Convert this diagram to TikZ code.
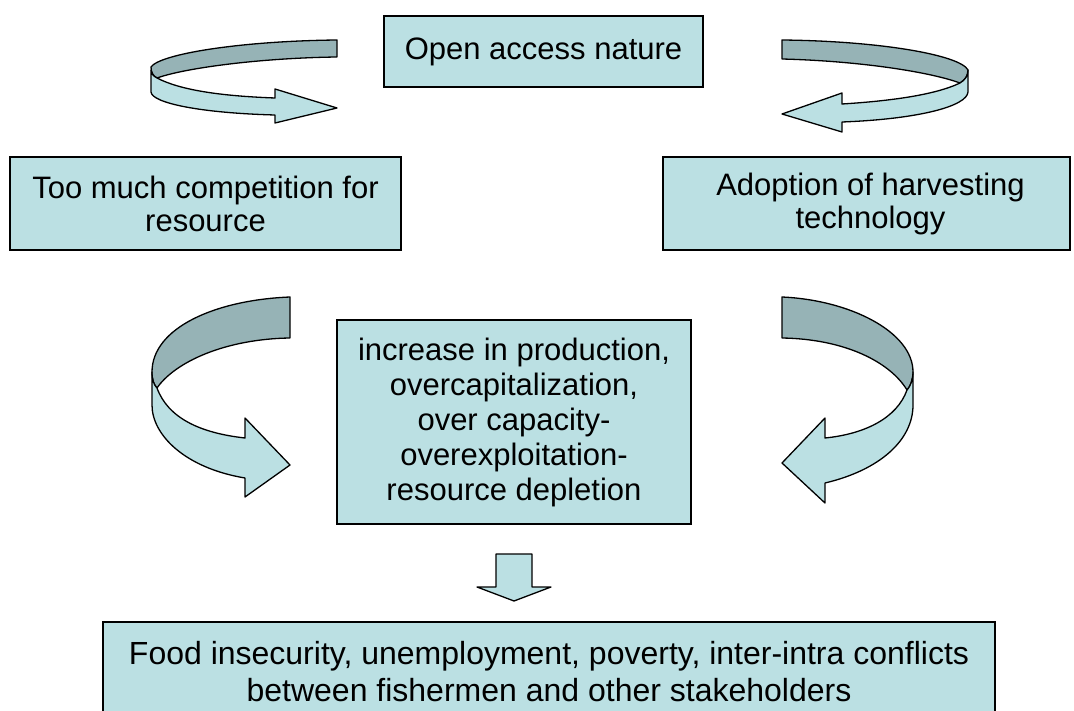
\documentclass[tikz,border=0pt]{standalone}
\usepackage{fontspec}
\setmainfont{Liberation Sans}
\definecolor{boxfill}{HTML}{BBE0E3}
\definecolor{bandback}{HTML}{96B3B6}
\begin{document}
\begin{tikzpicture}[x=1pt,y=-1pt,
  box/.style={draw=black, line width=1.3pt, fill=boxfill, align=center, inner sep=0pt},
  band/.style={draw=black, line width=1.3pt, line join=round},
  front/.style={band, fill=boxfill},
  back/.style={band, fill=bandback}]
\useasboundingbox (0,0) rectangle (1074,711);

% text boxes
\node[box, minimum width=319pt, minimum height=71pt,
      font=\fontsize{31}{34}\selectfont] (open) at (543.5,51.5) {Open access nature};
\node[box, minimum width=391pt, minimum height=93pt,
      font=\fontsize{31}{33}\selectfont] (comp) at (205.5,203.5)
      {Too much competition for\\resource};
\node[box, minimum width=407pt, minimum height=93pt,
      font=\fontsize{31}{33}\selectfont] (tech) at (866.5,203.5)
      {\hspace*{8pt}Adoption of harvesting\\\hspace*{8pt}technology};
\node[box, minimum width=354pt, minimum height=204pt,
      font=\fontsize{31}{35}\selectfont] (mid) at (514,422)
      {increase in production,\\overcapitalization,\\over capacity-\\overexploitation-\\resource depletion};
\node[box, minimum width=892pt, minimum height=99pt,
      font=\fontsize{32}{37}\selectfont] (out) at (549,671.5)
      {Food insecurity, unemployment, poverty, inter-intra conflicts\\between fishermen and other stakeholders};

% curved ribbon arrow, top left
\draw[back] (337,40) .. controls (240,41) and (160,54) .. (151,67)
  .. controls (151,72) and (153,76) .. (157,78)
  .. controls (185,68) and (260,58) .. (337,57) -- cycle;
\draw[front] (157,78) .. controls (153,76) and (151,73) .. (151,70) -- (151,92)
  .. controls (152,103) and (200,113) .. (275,115) -- (275,123) -- (337,108)
  -- (275,89) -- (275,98) .. controls (220,96) and (180,90) .. (157,78) -- cycle;

% curved ribbon arrow, top right
\draw[back] (782,40) .. controls (880,41) and (960,55) .. (968,70)
  .. controls (968,76) and (965,80) .. (960,83)
  .. controls (930,72) and (860,61) .. (782,59) -- cycle;
\draw[front] (960,83) .. controls (965,80) and (968,76) .. (968,70) -- (968,92)
  .. controls (967,106) and (920,119) .. (842,122) -- (842,132) -- (782,114)
  -- (842,93) -- (842,104) .. controls (890,101) and (935,95) .. (960,83) -- cycle;

% curved ribbon arrow, lower left
\draw[back] (290,297) .. controls (215,300) and (152,328) .. (152,372)
  .. controls (152,380) and (154,385) .. (157,388)
  .. controls (175,362) and (225,339) .. (290,338) -- cycle;
\draw[front] (157,388) .. controls (154,385) and (152,380) .. (152,372) -- (152,405)
  .. controls (152,435) and (185,468) .. (245,478) -- (245,497) -- (290,465)
  -- (245,418) -- (245,438) .. controls (200,433) and (168,418) .. (157,388) -- cycle;

% curved ribbon arrow, lower right
\draw[back] (782,297) .. controls (850,300) and (913,332) .. (913,372)
  .. controls (913,380) and (910,387) .. (907,390)
  .. controls (890,362) and (845,339) .. (782,338) -- cycle;
\draw[front] (907,390) .. controls (910,387) and (913,380) .. (913,372) -- (913,405)
  .. controls (913,440) and (880,470) .. (825,483) -- (825,503) -- (782,463)
  -- (825,418) -- (825,438) .. controls (865,434) and (897,418) .. (907,390) -- cycle;

% block arrow from the middle box down to the outcome box
\draw[front] (496,554) -- (532,554) -- (532,587) -- (551,587) -- (514,601)
  -- (477,587) -- (496,587) -- cycle;
\end{tikzpicture}
\end{document}
